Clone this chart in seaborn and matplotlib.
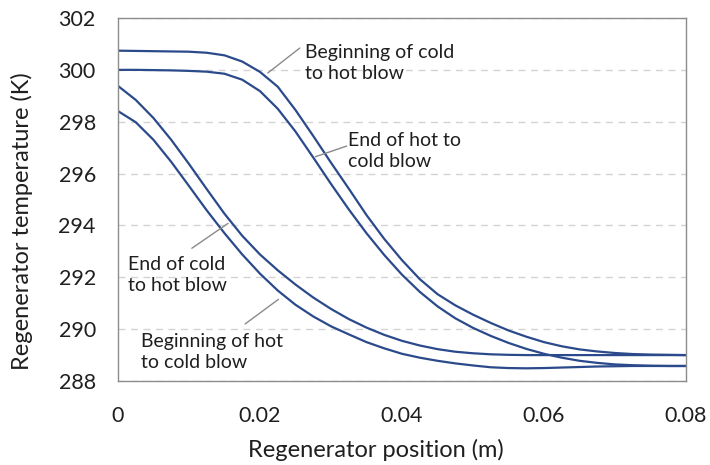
import pandas as pd
import matplotlib.pyplot as plt
import seaborn as sns

# Regenerator position (m), shared by all four profiles
position = [0.0, 0.0025, 0.005, 0.0075, 0.01, 0.0125, 0.015, 0.0175, 0.02, 0.0225,
            0.025, 0.0275, 0.03, 0.0325, 0.035, 0.0375, 0.04, 0.0425, 0.045, 0.0475,
            0.05, 0.0525, 0.055, 0.0575, 0.06, 0.0625, 0.065, 0.0675, 0.07, 0.0725,
            0.075, 0.0775, 0.08]

# Temperature profiles (K)
begin_cold_to_hot = [300.74, 300.73, 300.72, 300.71, 300.70, 300.66, 300.56, 300.32, 299.92, 299.35,
                     298.45, 297.45, 296.42, 295.42, 294.40, 293.48, 292.66, 291.93, 291.35, 290.92,
                     290.56, 290.24, 289.95, 289.71, 289.50, 289.34, 289.22, 289.14, 289.08, 289.04,
                     289.02, 289.01, 289.00]
end_hot_to_cold = [300.00, 300.00, 299.99, 299.98, 299.96, 299.93, 299.85, 299.62, 299.18, 298.50,
                   297.62, 296.62, 295.60, 294.62, 293.70, 292.86, 292.10, 291.44, 290.88, 290.42,
                   290.05, 289.74, 289.47, 289.24, 289.05, 288.90, 288.78, 288.70, 288.64, 288.61,
                   288.59, 288.58, 288.58]
end_cold_to_hot = [299.38, 298.84, 298.14, 297.30, 296.37, 295.40, 294.45, 293.60, 292.88, 292.27,
                   291.72, 291.22, 290.78, 290.39, 290.06, 289.78, 289.55, 289.37, 289.23, 289.13,
                   289.07, 289.03, 289.01, 289.00, 289.00, 289.00, 289.00, 289.00, 289.00, 289.00,
                   289.00, 289.00, 289.00]
begin_hot_to_cold = [298.41, 297.98, 297.30, 296.45, 295.52, 294.58, 293.70, 292.88, 292.14, 291.49,
                     290.94, 290.49, 290.11, 289.80, 289.50, 289.26, 289.05, 288.90, 288.78, 288.68,
                     288.60, 288.53, 288.50, 288.49, 288.50, 288.52, 288.54, 288.56, 288.57, 288.58,
                     288.58, 288.58, 288.58]

series = {
    "Beginning of cold\nto hot blow": begin_cold_to_hot,
    "End of hot to\ncold blow": end_hot_to_cold,
    "End of cold\nto hot blow": end_cold_to_hot,
    "Beginning of hot\nto cold blow": begin_hot_to_cold,
}

df = pd.concat(
    [pd.DataFrame({"position": position, "temperature": vals, "profile": name})
     for name, vals in series.items()],
    ignore_index=True,
)

sns.set_theme(style="white")
plt.rcParams["font.family"] = ["Lato", "DejaVu Sans"]

line_color = "#2B4A8B"
text_color = "#1F1F1F"
axis_gray = "#8C8C8C"

fig = plt.figure(figsize=(7.1, 4.65), dpi=100)
ax = fig.add_axes([0.1662, 0.1806, 0.8, 0.7807])

sns.lineplot(data=df, x="position", y="temperature", units="profile", estimator=None,
             color=line_color, linewidth=1.6, ax=ax, legend=False)

ax.set_xlim(0, 0.08)
ax.set_ylim(288, 302)
ax.set_xticks([0, 0.02, 0.04, 0.06, 0.08])
ax.set_xticklabels(["0", "0.02", "0.04", "0.06", "0.08"])
ax.set_yticks(range(288, 303, 2))

ax.yaxis.grid(True, color="#D3D3D3", linestyle=(0, (5, 4)), linewidth=1.0)
ax.xaxis.grid(False)
ax.set_axisbelow(True)

for side in ["left", "bottom", "right", "top"]:
    ax.spines[side].set_color(axis_gray)
    ax.spines[side].set_linewidth(1.0)

ax.tick_params(axis="both", which="major", direction="out", length=5, width=1,
               color=axis_gray, labelsize=15.5, labelcolor=text_color)
ax.tick_params(axis="y", pad=11)
ax.tick_params(axis="x", pad=13)

ax.set_xlabel("Regenerator position (m)", fontsize=17, color=text_color)
ax.set_ylabel("Regenerator temperature (K)", fontsize=17, color=text_color)
ax.xaxis.set_label_coords(0.454, -0.16)
ax.yaxis.set_label_coords(-0.150, 0.44)

# annotations: (label, leader tip on curve, text position, leader start)
notes = [
    ("Beginning of cold\nto hot blow", (0.0211, 299.88), (0.0263, 300.28), (0.0256, 300.84)),
    ("End of hot to\ncold blow", (0.0278, 296.65), (0.0324, 296.86), (0.0322, 297.06)),
    ("End of cold\nto hot blow", (0.0155, 294.08), (0.0014, 292.08), (0.0104, 293.12)),
    ("Beginning of hot\nto cold blow", (0.0226, 291.15), (0.0033, 289.13), (0.0179, 290.20)),
]
for label, tip, txt, start in notes:
    ax.plot([start[0], tip[0]], [start[1], tip[1]], color="#8A8A8A", linewidth=1.0)
    ax.text(txt[0], txt[1], label, fontsize=14, color=text_color, va="center", ha="left",
            linespacing=1.29)

fig.savefig("out.png", dpi=100)
